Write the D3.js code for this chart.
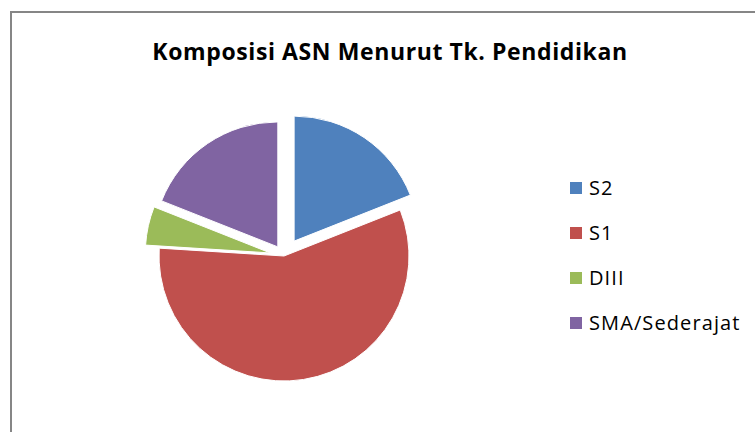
<!DOCTYPE html>
<html>
<head>
<meta charset="utf-8">
<script src="https://cdn.jsdelivr.net/npm/d3@7"></script>
<style>
  body { margin: 0; background: #fff; }
  svg { display: block; }
  text { font-family: "Open Sans", "Noto Sans", sans-serif; }
</style>
</head>
<body>
<script>
// data (share of ASN per education level)
const categories = ['S2', 'S1', 'DIII', 'SMA/Sederajat'];
const values = [19, 57, 5, 19];
const colors = ['#4f81bd', '#c0504d', '#9bbb59', '#8064a2'];
const explode = [18, 0, 14, 11]; // px each slice is pulled out
const title = 'Komposisi ASN Menurut Tk. Pendidikan';

const W = 755, H = 432;
const svg = d3.select('body').append('svg')
    .attr('width', W)
    .attr('height', H);

// chart frame (cut off by the window on the right and bottom)
svg.append('rect')
    .attr('x', 11).attr('y', 12)
    .attr('width', W + 10).attr('height', H + 10)
    .attr('fill', '#fff')
    .attr('stroke', '#868686')
    .attr('stroke-width', 2);

svg.append('text')
    .attr('x', 390).attr('y', 60)
    .attr('text-anchor', 'middle')
    .attr('font-size', 23)
    .attr('letter-spacing', 0.6)
    .attr('font-weight', 'bold')
    .attr('fill', '#000')
    .text(title);

const cx = 284, cy = 256, r = 125;

const pie = d3.pie().sort(null)(values);
const arc = d3.arc().innerRadius(0).outerRadius(r);

svg.append('g')
    .attr('transform', `translate(${cx},${cy})`)
    .selectAll('path')
    .data(pie)
    .enter()
    .append('path')
    .attr('d', arc)
    .attr('fill', (d, i) => colors[i])
    .attr('stroke', '#fff')
    .attr('stroke-width', 1)
    .attr('transform', (d, i) => {
        const a = (d.startAngle + d.endAngle) / 2;
        const dx = Math.sin(a) * explode[i];
        const dy = -Math.cos(a) * explode[i];
        return `translate(${dx},${dy})`;
    });

// legend
const legend = svg.append('g')
    .selectAll('g')
    .data(categories)
    .enter()
    .append('g')
    .attr('transform', (d, i) => `translate(570, ${188 + i * 45})`);

legend.append('rect')
    .attr('x', 0).attr('y', -6)
    .attr('width', 12).attr('height', 12)
    .attr('fill', (d, i) => colors[i]);

legend.append('text')
    .attr('x', 19).attr('y', 7)
    .attr('font-size', 20)
    .attr('letter-spacing', 1.1)
    .attr('fill', '#000')
    .text(d => d);
</script>
</body>
</html>
